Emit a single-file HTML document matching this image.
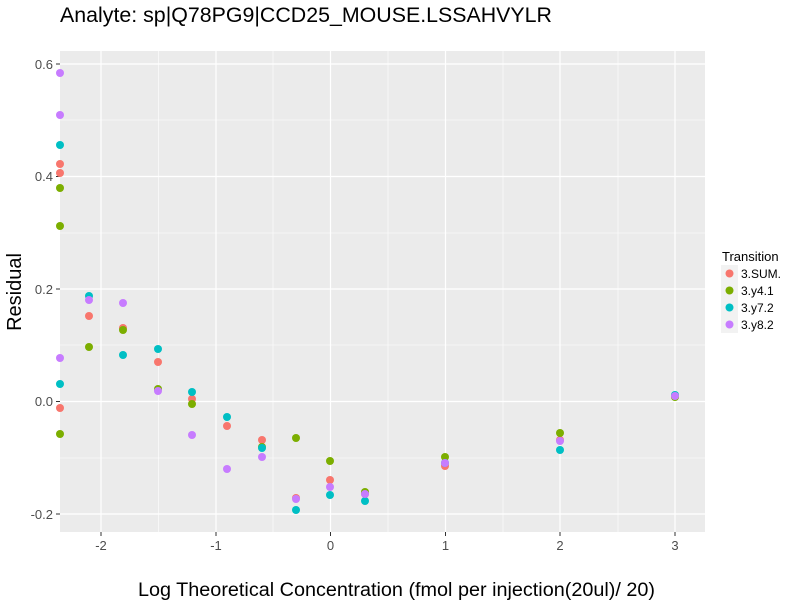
<!DOCTYPE html><html><head><style>body{margin:0;background:#fff}svg{font-family:"Liberation Sans",sans-serif}</style></head><body>
<svg width="800" height="600" xmlns="http://www.w3.org/2000/svg">
<rect width="800" height="600" fill="#fff"/>
<text x="60" y="22" font-size="21" fill="#000" textLength="492" lengthAdjust="spacingAndGlyphs">Analyte: sp|Q78PG9|CCD25_MOUSE.LSSAHVYLR</text>
<rect x="60" y="51" width="645" height="481" fill="#EBEBEB"/>
<g stroke="#fff" stroke-width="0.6">
<line x1="60" x2="705" y1="120" y2="120"/><line x1="60" x2="705" y1="233" y2="233"/><line x1="60" x2="705" y1="345" y2="345"/><line x1="60" x2="705" y1="458" y2="458"/>
<line y1="51" y2="532" x1="158.5" x2="158.5"/><line y1="51" y2="532" x1="273" x2="273"/><line y1="51" y2="532" x1="388" x2="388"/><line y1="51" y2="532" x1="503" x2="503"/><line y1="51" y2="532" x1="618" x2="618"/>
</g>
<g stroke="#fff" stroke-width="1.2">
<line x1="60" x2="705" y1="64" y2="64"/><line x1="60" x2="705" y1="176.5" y2="176.5"/><line x1="60" x2="705" y1="289" y2="289"/><line x1="60" x2="705" y1="401.5" y2="401.5"/><line x1="60" x2="705" y1="514" y2="514"/>
<line y1="51" y2="532" x1="101" x2="101"/><line y1="51" y2="532" x1="216" x2="216"/><line y1="51" y2="532" x1="330.5" x2="330.5"/><line y1="51" y2="532" x1="445.5" x2="445.5"/><line y1="51" y2="532" x1="560" x2="560"/><line y1="51" y2="532" x1="675" x2="675"/>
</g>
<g stroke="#333" stroke-width="1">
<line x1="56" x2="60" y1="64" y2="64"/><line x1="56" x2="60" y1="176.5" y2="176.5"/><line x1="56" x2="60" y1="289" y2="289"/><line x1="56" x2="60" y1="401.5" y2="401.5"/><line x1="56" x2="60" y1="514" y2="514"/>
<line y1="532" y2="536" x1="101" x2="101"/><line y1="532" y2="536" x1="216" x2="216"/><line y1="532" y2="536" x1="330.5" x2="330.5"/><line y1="532" y2="536" x1="445.5" x2="445.5"/><line y1="532" y2="536" x1="560" x2="560"/><line y1="532" y2="536" x1="675" x2="675"/>
</g>
<g font-size="13" fill="#4D4D4D" text-anchor="end">
<text x="53" y="69">0.6</text><text x="53" y="181">0.4</text><text x="53" y="294">0.2</text><text x="53" y="406">0.0</text><text x="53" y="519">-0.2</text>
</g>
<g font-size="13" fill="#4D4D4D" text-anchor="middle">
<text x="101" y="550">-2</text><text x="216" y="550">-1</text><text x="330.5" y="550">0</text><text x="445.5" y="550">1</text><text x="560" y="550">2</text><text x="675" y="550">3</text>
</g>
<text x="138" y="596" font-size="19" textLength="517" lengthAdjust="spacingAndGlyphs">Log Theoretical Concentration (fmol per injection(20ul)/ 20)</text>
<text transform="translate(21,292) rotate(-90)" font-size="20" text-anchor="middle">Residual</text>
<g>
<g fill="#F8766D">
<circle cx="60" cy="164" r="4"/><circle cx="60" cy="173" r="4"/><circle cx="60" cy="408" r="4"/><circle cx="89" cy="316" r="4"/><circle cx="123" cy="328" r="4"/><circle cx="158" cy="362" r="4"/><circle cx="192" cy="399" r="4"/><circle cx="227" cy="426" r="4"/><circle cx="262" cy="440" r="4"/><circle cx="296" cy="498" r="4"/><circle cx="330" cy="480" r="4"/><circle cx="365" cy="494" r="4"/><circle cx="445" cy="466" r="4"/><circle cx="560" cy="440" r="4"/><circle cx="675" cy="396" r="4"/>
</g>
<g fill="#7CAE00">
<circle cx="60" cy="188" r="4"/><circle cx="60" cy="226" r="4"/><circle cx="60" cy="434" r="4"/><circle cx="89" cy="347" r="4"/><circle cx="123" cy="330" r="4"/><circle cx="158" cy="389" r="4"/><circle cx="192" cy="404" r="4"/><circle cx="262" cy="447" r="4"/><circle cx="296" cy="438" r="4"/><circle cx="330" cy="461" r="4"/><circle cx="365" cy="492" r="4"/><circle cx="445" cy="457" r="4"/><circle cx="560" cy="433" r="4"/><circle cx="675" cy="397" r="4"/>
</g>
<g fill="#00BFC4">
<circle cx="60" cy="145" r="4"/><circle cx="60" cy="384" r="4"/><circle cx="89" cy="296" r="4"/><circle cx="123" cy="355" r="4"/><circle cx="158" cy="349" r="4"/><circle cx="192" cy="392" r="4"/><circle cx="227" cy="417" r="4"/><circle cx="262" cy="448" r="4"/><circle cx="296" cy="510" r="4"/><circle cx="330" cy="495" r="4"/><circle cx="365" cy="501" r="4"/><circle cx="445" cy="463" r="4"/><circle cx="560" cy="450" r="4"/><circle cx="675" cy="395" r="4"/>
</g>
<g fill="#C77CFF">
<circle cx="60" cy="73" r="4"/><circle cx="60" cy="115" r="4"/><circle cx="60" cy="358" r="4"/><circle cx="89" cy="300" r="4"/><circle cx="123" cy="303" r="4"/><circle cx="158" cy="391" r="4"/><circle cx="192" cy="435" r="4"/><circle cx="227" cy="469" r="4"/><circle cx="262" cy="457" r="4"/><circle cx="296" cy="499" r="4"/><circle cx="330" cy="487" r="4"/><circle cx="365" cy="494" r="4"/><circle cx="445" cy="463" r="4"/><circle cx="560" cy="441" r="4"/><circle cx="675" cy="396" r="4"/>
</g>
</g>
<text x="722" y="261" font-size="13">Transition</text>
<g font-size="12" fill="#000">
<rect x="721" y="265" width="17" height="17" fill="#F2F2F2"/><circle cx="729.5" cy="273.5" r="4" fill="#F8766D"/><text x="741" y="278">3.SUM.</text>
<rect x="721" y="282" width="17" height="17" fill="#F2F2F2"/><circle cx="729.5" cy="290.5" r="4" fill="#7CAE00"/><text x="741" y="295">3.y4.1</text>
<rect x="721" y="299" width="17" height="17" fill="#F2F2F2"/><circle cx="729.5" cy="307.5" r="4" fill="#00BFC4"/><text x="741" y="312">3.y7.2</text>
<rect x="721" y="316" width="17" height="17" fill="#F2F2F2"/><circle cx="729.5" cy="324.5" r="4" fill="#C77CFF"/><text x="741" y="329">3.y8.2</text>
</g>
</svg></body></html>
